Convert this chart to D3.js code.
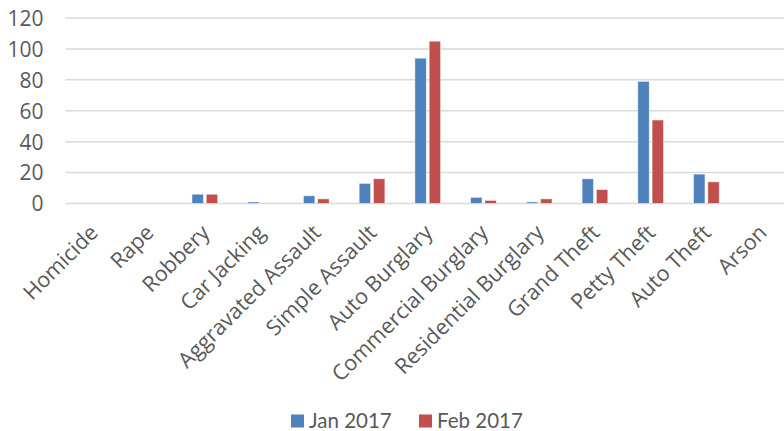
<!DOCTYPE html>
<html><head><meta charset="utf-8">
<script src="https://cdn.jsdelivr.net/npm/d3@7"></script>
<style>body{margin:0;background:#fff}svg{display:block}</style>
</head><body>
<svg id="c" width="784" height="431"></svg>
<script>
const categories = ["Homicide","Rape","Robbery","Car Jacking","Aggravated Assault","Simple Assault","Auto Burglary","Commercial Burglary","Residential Burglary","Grand Theft","Petty Theft","Auto Theft","Arson"];
const jan2017 = [0,0,6,1,5,13,94,4,1,16,79,19,0];
const feb2017 = [0,0,6,0,3,16,105,2,3,9,54,14,0];
const seriesNames = ["Jan 2017","Feb 2017"];
const seriesColors = ["#4F81BD","#C0504D"];
const yTicks = [0,20,40,60,80,100,120];

const svg = d3.select("#c");
const font = "'Open Sans', sans-serif";
const x = d3.scaleBand().domain(categories).range([65.5, 790]);
const y = d3.scaleLinear().domain([0,120]).range([203.5, 18]);
const xs = d3.scaleBand().domain(seriesNames).range([0, x.bandwidth()]).paddingInner(0.2).paddingOuter(1.05);

// gridlines
svg.append("g").selectAll("line").data(yTicks).join("line")
  .attr("x1", 65.5).attr("x2", 784).attr("y1", d=>y(d)).attr("y2", d=>y(d))
  .attr("stroke", "#d9d9d9").attr("stroke-width", 1.5);

// y axis labels
const yAxis = d3.axisLeft(y).tickValues(yTicks).tickSize(0).tickPadding(0);
const ga = svg.append("g").attr("transform","translate(43.5,0)").call(yAxis);
ga.select(".domain").remove();
ga.selectAll("text").attr("font-family", font).attr("font-size", 21).attr("fill","#595959").attr("dy","0.35em");

// bars
const data = [jan2017, feb2017];
data.forEach((vals, si) => {
  svg.append("g").selectAll("rect").data(vals).join("rect")
    .attr("x", (d,i)=> x(categories[i]) + xs(seriesNames[si]))
    .attr("width", xs.bandwidth())
    .attr("y", d=> y(d))
    .attr("height", d=> y(0)-y(d))
    .attr("fill", seriesColors[si])
    .attr("stroke", "#fff").attr("stroke-opacity",0.6).attr("stroke-width", 0.8);
});

// x labels
svg.append("g").selectAll("text").data(categories).join("text")
  .attr("transform", d => `translate(${x(d)+x.bandwidth()/2+6},${234}) rotate(-45)`)
  .attr("text-anchor","end")
  .attr("font-family", font).attr("font-size", 21.5).attr("fill","#595959")
  .text(d=>d);

// legend
const leg = svg.append("g");
const lx = [291, 419];
seriesNames.forEach((n,i)=>{
  leg.append("rect").attr("x", lx[i]).attr("y", 414.5).attr("width", 13).attr("height", 13).attr("fill", seriesColors[i]);
  leg.append("text").attr("x", lx[i]+18).attr("y", 427.5).attr("font-family", "Lato, sans-serif").attr("font-size", 20.5).attr("fill","#595959").text(n);
});
</script>
</body></html>
